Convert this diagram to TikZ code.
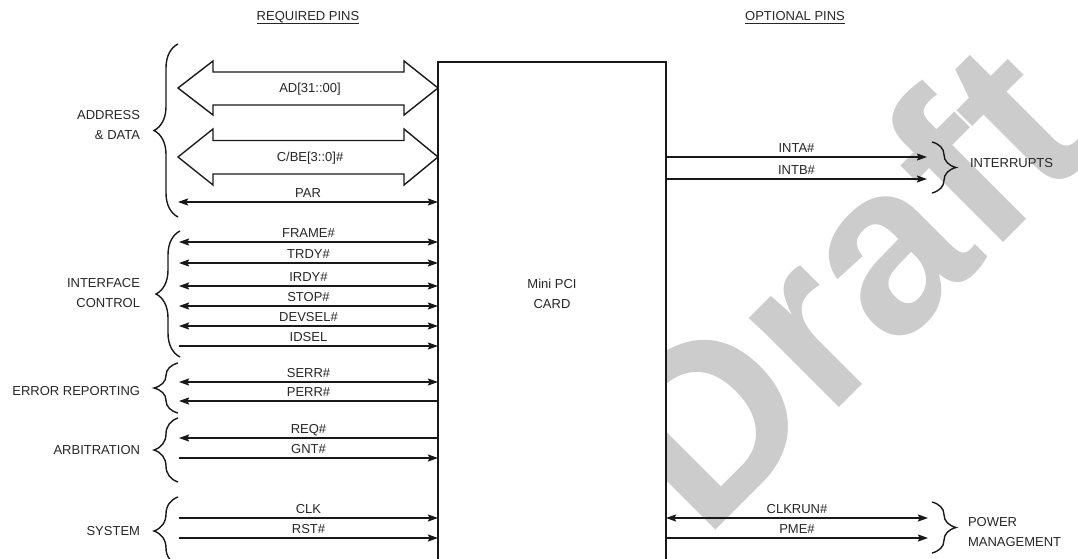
\documentclass[tikz,border=0pt]{standalone}
\usepackage{fontspec}
\setmainfont{Liberation Sans}
\usetikzlibrary{arrows.meta,decorations.pathreplacing,calc}
\begin{document}
\begin{tikzpicture}[x=1pt,y=-1pt,
  every node/.style={font=\fontsize{13}{20}\selectfont, text=black!85, inner sep=0pt, outer sep=0pt},
  >={Stealth[length=10pt,width=7pt,inset=1.5pt]},
  ln/.style={line width=1.5pt, draw=black!90},
  lbl/.style={anchor=base, yshift=4.5pt},
  grp/.style={anchor=east, align=right},
  grpr/.style={anchor=west, align=left},
  brc/.style={decorate, decoration={brace, amplitude=24pt}, line width=1.4pt, draw=black!90},
  bus/.style={line width=1.4pt, draw=black!90, line join=miter},
  wmark/.style={rotate=45, text=black!20, font=\fontsize{240}{240}\selectfont\bfseries},
  hdr/.style={anchor=base}
]
\useasboundingbox (0,0) rectangle (1078,559);
\clip (0,0) rectangle (1078,559);

% watermark
\node[wmark] (wm) at (842,283) {Draft};

% card
\node[draw=black!90, line width=1.6pt, fill=white, minimum width=228pt, minimum height=560pt, anchor=north west] (card) at (438,62) {};
\node[align=center] (cardlbl) at (552,294) {Mini PCI\\CARD};

% headers
\node[hdr] (req) at (308,20.7) {REQUIRED PINS};
\draw[line width=1pt, black!85] ([yshift=-2.6pt]req.base west) -- ([yshift=-2.6pt]req.base east);
\node[hdr] (opt) at (795,20.7) {OPTIONAL PINS};
\draw[line width=1pt, black!85] ([yshift=-2.6pt]opt.base west) -- ([yshift=-2.6pt]opt.base east);

% bus arrows
\draw[bus] (178,88) -- (213,61) -- (213,72) -- (404,72) -- (404,61) -- (card.west |- 0,88) -- (404,115) -- (404,105) -- (213,105) -- (213,115) -- cycle;
\node (ad) at (310,89) {AD[31::00]};
\draw[bus] (178,157) -- (213,129) -- (213,140.5) -- (404,140.5) -- (404,129) -- (card.west |- 0,157) -- (404,185) -- (404,174) -- (213,174) -- (213,185) -- cycle;
\node (cbe) at (310,158) {C/BE[3::0]\#};

% left pin coordinates
\coordinate (pPAR) at (178,202);
\coordinate (pFRAME) at (179,242);
\coordinate (pTRDY) at (179,263);
\coordinate (pIRDY) at (179,286);
\coordinate (pSTOP) at (179,306);
\coordinate (pDEVSEL) at (179,326);
\coordinate (pIDSEL) at (179,346);
\coordinate (pSERR) at (179,382);
\coordinate (pPERR) at (179,401);
\coordinate (pREQ) at (179,438);
\coordinate (pGNT) at (179,458);
\coordinate (pCLK) at (179,518);
\coordinate (pRST) at (179,538);

\draw[ln,<->] (pPAR) -- node[lbl] {PAR} (card.west |- pPAR);
\draw[ln,<->] (pFRAME) -- node[lbl] {FRAME\#} (card.west |- pFRAME);
\draw[ln,<->] (pTRDY) -- node[lbl] {TRDY\#} (card.west |- pTRDY);
\draw[ln,<->] (pIRDY) -- node[lbl] {IRDY\#} (card.west |- pIRDY);
\draw[ln,<->] (pSTOP) -- node[lbl] {STOP\#} (card.west |- pSTOP);
\draw[ln,<->] (pDEVSEL) -- node[lbl] {DEVSEL\#} (card.west |- pDEVSEL);
\draw[ln,->] (pIDSEL) -- node[lbl] {IDSEL} (card.west |- pIDSEL);
\draw[ln,<->] (pSERR) -- node[lbl] {SERR\#} (card.west |- pSERR);
\draw[ln,<-] (pPERR) -- node[lbl] {PERR\#} (card.west |- pPERR);
\draw[ln,<-] (pREQ) -- node[lbl] {REQ\#} (card.west |- pREQ);
\draw[ln,->] (pGNT) -- node[lbl] {GNT\#} (card.west |- pGNT);
\draw[ln,->] (pCLK) -- node[lbl] {CLK} (card.west |- pCLK);
\draw[ln,->] (pRST) -- node[lbl] {RST\#} (card.west |- pRST);

% right pins
\coordinate (pINTA) at (927,157);
\coordinate (pINTB) at (927,179);
\coordinate (pCLKRUN) at (928,518);
\coordinate (pPME) at (928,538);
\draw[ln,->] (card.east |- pINTA) -- node[lbl] {INTA\#} (pINTA);
\draw[ln,->] (card.east |- pINTB) -- node[lbl] {INTB\#} (pINTB);
\draw[ln,<->] (card.east |- pCLKRUN) -- node[lbl] {CLKRUN\#} (pCLKRUN);
\draw[ln,->] (card.east |- pPME) -- node[lbl] {PME\#} (pPME);

% left braces
\draw[brc] (178,217) -- (178,44);
\draw[brc] (180,357) -- (180,231);
\draw[brc] (178,413) -- (178,363);
\draw[brc] (178,482) -- (178,418);
\draw[brc] (178,565) -- (178,497);

% right braces
\draw[brc] (932,142) -- (932,193);
\draw[brc] (932,502) -- (932,553);

% group labels
\node[grp] (gAD) at (140,125) {ADDRESS\\\& DATA};
\node[grp] (gIC) at (140,293) {INTERFACE\\CONTROL};
\node[grp] (gER) at (140,391) {ERROR REPORTING};
\node[grp] (gAR) at (140,450) {ARBITRATION};
\node[grp] (gSY) at (140,531) {SYSTEM};
\node[grpr] (gINT) at (970,163) {INTERRUPTS};
\node[grpr] (gPM) at (968,532) {POWER\\MANAGEMENT};
\end{tikzpicture}
\end{document}
